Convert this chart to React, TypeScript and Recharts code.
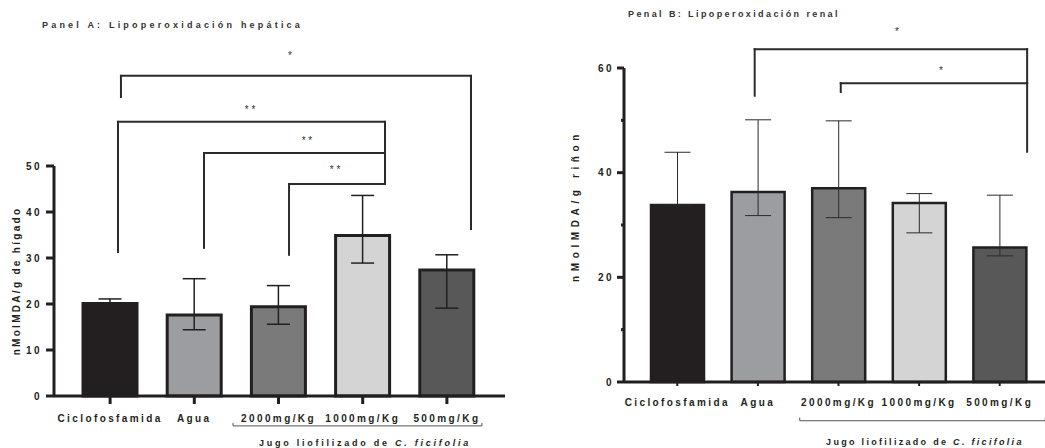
import { BarChart, Bar, XAxis, YAxis, ErrorBar, Cell, ReferenceLine, ReferenceDot } from "recharts"

const groups = ["Ciclofosfamida", "Agua", "2000mg/Kg", "1000mg/Kg", "500mg/Kg"]
const barColors = ["#231f20", "#9c9da1", "#7a7a7a", "#d4d4d4", "#585858"]

// Panel A: hepatic MDA (mean, [lower, upper] error)
const hepatic = [20.1, 17.6, 19.4, 34.9, 27.4]
const hepaticErr = [[1.0, 1.0], [3.2, 7.9], [3.8, 4.6], [6.0, 8.7], [8.3, 3.3]]
const hepaticTicks = [0, 10, 20, 30, 40, 50]

// Panel B: renal MDA
const renal = [33.8, 36.3, 37.0, 34.2, 25.7]
const renalErr = [[0, 10.1], [4.5, 13.8], [5.6, 12.9], [5.7, 1.8], [1.6, 10.0]]
const renalTicks = [0, 10, 20, 30, 40, 50, 60]

// significance brackets, x in group-index units (0 = first bar centre), y in data units
const hepaticBrackets = [
  { from: 0.13, to: 4.285, top: 69.6, leftEnd: 65.0, rightEnd: 36.3 },
  { from: 0.095, to: 3.264, top: 59.6, leftEnd: 31.3, rightEnd: 52.8 },
  { from: 1.116, to: 3.264, top: 52.8, leftEnd: 32.2, rightEnd: 46.1 },
  { from: 2.125, to: 3.264, top: 46.1, leftEnd: 30.7, rightEnd: 46.1 },
]
const hepaticStars = [
  { x: 2.137, y: 74.0, text: "*" },
  { x: 1.662, y: 62.2, text: "* *" },
  { x: 2.338, y: 55.5, text: "* *" },
  { x: 2.671, y: 49.2, text: "* *" },
]
const renalBrackets = [
  { from: 0.962, to: 4.336, top: 63.6, leftEnd: 54.7, rightEnd: 44.0 },
  { from: 2.028, to: 4.336, top: 57.1, leftEnd: 55.4, rightEnd: 57.1 },
]
const renalStars = [
  { x: 2.723, y: 67.0, text: "*" },
  { x: 3.269, y: 59.5, text: "*" },
]

const hepaticRows = groups.map((name, i) => ({ name, value: hepatic[i], err: hepaticErr[i] }))
const renalRows = groups.map((name, i) => ({ name, value: renal[i], err: renalErr[i] }))

const font = "'Liberation Sans', Arial, sans-serif"
const ink = "#231f20"

function bracketLines(list: any[], prefix: string) {
  return list.flatMap((b, i) => {
    const common = {
      xAxisId: "n",
      ifOverflow: "visible" as const,
      stroke: "#2b2b2b",
      strokeWidth: 2,
      strokeLinecap: "square" as const,
    }
    return [
      <ReferenceLine key={`${prefix}h${i}`} {...common} segment={[{ x: b.from, y: b.top }, { x: b.to, y: b.top }]} />,
      <ReferenceLine key={`${prefix}l${i}`} {...common} segment={[{ x: b.from, y: b.top }, { x: b.from, y: b.leftEnd }]} />,
      <ReferenceLine key={`${prefix}r${i}`} {...common} segment={[{ x: b.to, y: b.top }, { x: b.to, y: b.rightEnd }]} />,
    ]
  })
}

function starDots(list: any[], prefix: string) {
  return list.map((s, i) => (
    <ReferenceDot
      key={`${prefix}s${i}`}
      xAxisId="n"
      x={s.x}
      y={s.y}
      r={1}
      fill="none"
      stroke="none"
      ifOverflow="visible"
      label={{ value: s.text, position: "center", fill: "#333", fontSize: 10, fontFamily: font }}
    />
  ))
}

function GroupCaption(props: any) {
  const vb = props.viewBox || { x: 0, y: 0, width: 0, height: 0 }
  const cx = vb.x + vb.width / 2
  const cy = vb.y + vb.height / 2
  return (
    <text x={cx} y={cy} textAnchor="middle" dominantBaseline="central" fontFamily={font} fontWeight={700} fontSize={9} letterSpacing={props.spacing} fill={ink}>
      <tspan>Jugo liofilizado de </tspan>
      <tspan fontStyle="italic">C. ficifolia</tspan>
    </text>
  )
}

function groupBracket(from: number, to: number, y: number, tick: number, text: { x: number; y: number }, spacing: number, prefix: string) {
  const common = { xAxisId: "n", ifOverflow: "visible" as const, stroke: "#555", strokeWidth: 1 }
  return [
    <ReferenceLine key={`${prefix}g0`} {...common} segment={[{ x: from, y }, { x: to, y }]} />,
    <ReferenceLine key={`${prefix}g1`} {...common} segment={[{ x: from, y }, { x: from, y: y + tick }]} />,
    <ReferenceLine key={`${prefix}g2`} {...common} segment={[{ x: to, y }, { x: to, y: y + tick }]} />,
    <ReferenceDot key={`${prefix}gt`} xAxisId="n" x={text.x} y={text.y} r={1} fill="none" stroke="none" ifOverflow="visible" label={<GroupCaption spacing={spacing} />} />,
  ]
}

function yLabel(text: string, dx: number, shift: number, spacing: number) {
  return (props: any) => {
    const vb = props.viewBox || { x: 0, y: 0, width: 0, height: 0 }
    const cx = vb.x + dx
    const cy = vb.y + vb.height / 2 + shift
    return (
      <text x={cx} y={cy} transform={`rotate(-90 ${cx} ${cy})`} textAnchor="middle" dominantBaseline="central" fontFamily={font} fontWeight={700} fontSize={10} letterSpacing={spacing} fill={ink}>
        {text}
      </text>
    )
  }
}

function RenalTick(props: any) {
  const { x, y, payload } = props
  const major = payload.value % 20 === 0
  const axisX = x + 10
  return (
    <g>
      <line x1={axisX - (major ? 7 : 3)} x2={axisX} y1={y} y2={y} stroke={ink} strokeWidth={3} />
      {major && (
        <text x={x} y={y} textAnchor="end" dominantBaseline="central" fontFamily={font} fontWeight={700} fontSize={10} letterSpacing={2.4} fill={ink}>
          {payload.value}
        </text>
      )}
    </g>
  )
}

const tickStyle = { fontFamily: font, fontWeight: 700, fontSize: 10, letterSpacing: 2.4, fill: ink }

const titleStyle: React.CSSProperties = {
  position: "absolute",
  fontFamily: font,
  fontWeight: 700,
  fontSize: 9,
  lineHeight: "10px",
  letterSpacing: 3.2,
  color: "#333",
  whiteSpace: "nowrap",
}

export default function App() {
  return (
    <div style={{ position: "fixed", left: 0, top: 0, width: 1045, height: 448, background: "#fff" }}>
      <div style={{ ...titleStyle, left: 42, top: 20 }}>Panel A: Lipoperoxidación hepática</div>
      <div style={{ ...titleStyle, left: 628, top: 9, letterSpacing: 2.4 }}>Penal B: Lipoperoxidación renal</div>

      <div style={{ position: "absolute", left: 0, top: 0 }}>
        <BarChart width={520} height={448} data={hepaticRows} margin={{ top: 166, right: 15, bottom: 22, left: 0 }}>
          <XAxis
            dataKey="name"
            height={30}
            padding={{ left: 14, right: 16 }}
            axisLine={{ stroke: ink, strokeWidth: 3 }}
            tickLine={{ stroke: ink, strokeWidth: 3 }}
            tickSize={8}
            tickMargin={11}
            tick={tickStyle}
            interval={0}
          />
          <XAxis xAxisId="n" type="number" domain={[0, 4]} hide padding={{ left: 56, right: 58 }} allowDataOverflow />
          <YAxis
            width={54}
            domain={[0, 50]}
            ticks={hepaticTicks}
            axisLine={{ stroke: ink, strokeWidth: 3 }}
            tickLine={{ stroke: ink, strokeWidth: 3 }}
            tickSize={8}
            tickMargin={4}
            tick={tickStyle}
            label={yLabel("nMolMDA/g de hígado", 16, 0, 2.3)}
          />
          <Bar dataKey="value" barSize={54} stroke={ink} strokeWidth={3} isAnimationActive={false}>
            {hepaticRows.map((r, i) => (
              <Cell key={r.name} fill={barColors[i]} />
            ))}
            <ErrorBar dataKey="err" width={11.5} stroke={ink} strokeWidth={1.5} direction="y" />
          </Bar>
          {bracketLines(hepaticBrackets, "a")}
          {starDots(hepaticStars, "a")}
          {groupBracket(1.46, 4.415, -6.5, 0.65, { x: 3.027, y: -10.2 }, 2.75, "a")}
        </BarChart>
      </div>

      <div style={{ position: "absolute", left: 520, top: 0 }}>
        <BarChart width={525} height={448} data={renalRows} margin={{ top: 68, right: 0, bottom: 36, left: 0 }}>
          <XAxis
            dataKey="name"
            height={30}
            padding={{ left: 13, right: 5 }}
            axisLine={{ stroke: ink, strokeWidth: 3 }}
            tickLine={{ stroke: ink, strokeWidth: 2 }}
            tickSize={4}
            tickMargin={13}
            tick={tickStyle}
            interval={0}
          />
          <XAxis xAxisId="n" type="number" domain={[0, 4]} hide padding={{ left: 53, right: 45 }} allowDataOverflow />
          <YAxis
            width={104}
            domain={[0, 60]}
            ticks={renalTicks}
            axisLine={{ stroke: ink, strokeWidth: 3 }}
            tickLine={false}
            tickSize={7}
            tickMargin={3}
            tick={<RenalTick />}
            label={yLabel("nMolMDA/g riñon", 55, -19, 4.6)}
          />
          <Bar dataKey="value" barSize={53} stroke={ink} strokeWidth={2.5} isAnimationActive={false}>
            {renalRows.map((r, i) => (
              <Cell key={r.name} fill={barColors[i]} />
            ))}
            <ErrorBar dataKey="err" width={13} stroke="#2b2b2b" strokeWidth={1} direction="y" />
          </Bar>
          {bracketLines(renalBrackets, "b")}
          {starDots(renalStars, "b")}
          {groupBracket(1.52, 4.56, -7.4, 0.6, { x: 3.07, y: -11.5 }, 2.3, "b")}
        </BarChart>
      </div>
    </div>
  )
}
